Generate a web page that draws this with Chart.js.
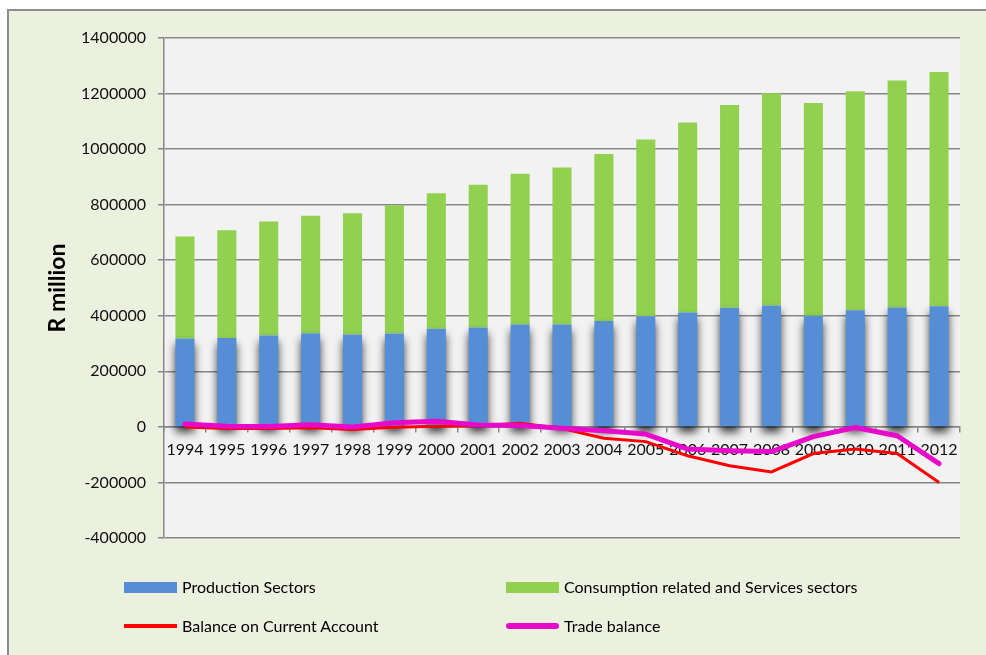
<!DOCTYPE html>
<html>
<head>
<meta charset="utf-8">
<script src="https://cdn.jsdelivr.net/npm/chart.js@4/dist/chart.umd.min.js"></script>
<style>
  html, body { margin: 0; padding: 0; background: #fff; }
  body { width: 986px; height: 655px; position: relative; overflow: hidden; font-family: Lato, sans-serif; }
  #frame {
    position: absolute; left: 7px; top: 9px; right: -10px; bottom: -10px;
    background: #EBF0DF; border-left: 2px solid #8c8c8c; border-top: 2px solid #8c8c8c;
  }
  #chartBox { position: absolute; left: 0; top: 0; width: 986px; height: 655px; }
  #legend { position: absolute; left: 0; top: 0; width: 986px; height: 655px; pointer-events: none; }
  .item { position: absolute; font-size: 16px; color: #000; line-height: 20px; white-space: nowrap; }
  .item .sw { position: absolute; left: 0; }
  .item span.txt { position: absolute; left: 58px; top: 0; }
</style>
</head>
<body>
<div id="frame"></div>
<div id="chartBox"><canvas id="myChart" width="986" height="655"></canvas></div>
<div id="legend"></div>
<script>
// years on the category axis
const years = ['1994', '1995', '1996', '1997', '1998', '1999', '2000', '2001', '2002', '2003',
               '2004', '2005', '2006', '2007', '2008', '2009', '2010', '2011', '2012'];

// R million
const production = [318000, 320000, 329000, 337000, 333000, 336000, 353000, 358000, 369000, 369000,
                    381000, 398000, 412000, 429000, 437000, 400000, 420000, 430000, 434000];
const consumption = [367000, 388000, 410000, 423000, 436000, 462000, 488000, 514000, 542000, 565000,
                     601000, 637000, 684000, 730000, 764000, 766000, 788000, 817000, 844000];
const currentAccount = [0, -6000, -6000, -3000, -9000, -1000, 2000, 4000, 13000, -6000,
                        -41000, -53000, -104000, -140000, -162000, -96000, -80000, -96000, -200000];
const tradeBalance = [10000, 2000, 1000, 8000, 0, 15000, 20000, 7000, 5000, -5000,
                      -14000, -26000, -80000, -86000, -89000, -35000, -2000, -32000, -132000];

// y axis ticks
const yMin = -400000;
const yMax = 1400000;
const yStep = 200000;

const gridGray = '#878787';

Chart.defaults.font.family = 'Lato, sans-serif';
Chart.defaults.color = '#000';

// grey plot area background
const plotBg = {
    id: 'plotBg',
    beforeDraw(chart) {
        const a = chart.chartArea;
        const ctx = chart.ctx;
        ctx.save();
        ctx.fillStyle = '#F2F2F2';
        ctx.fillRect(a.left, a.top, a.right - a.left, a.bottom - a.top);
        ctx.restore();
    }
};

// soft shadow under the blue bars
const barShadow = {
    id: 'barShadow',
    beforeDatasetDraw(chart, args) {
        if (args.index !== 0) return;
        const ctx = chart.ctx;
        ctx.save();
        ctx.shadowColor = 'rgba(0,0,0,0.75)';
        ctx.shadowBlur = 9;
        ctx.shadowOffsetX = 0;
        ctx.shadowOffsetY = 6;
    },
    afterDatasetDraw(chart, args) {
        if (args.index !== 0) return;
        chart.ctx.restore();
    }
};

const ctx = document.getElementById('myChart').getContext('2d');

const myChart = new Chart(ctx, {
    data: {
        labels: years,
        datasets: [
            {
                type: 'bar',
                label: 'Production Sectors',
                data: production,
                backgroundColor: '#558ED5',
                stack: 'sectors',
                order: 2,
                categoryPercentage: 1,
                barPercentage: 0.455
            },
            {
                type: 'bar',
                label: 'Consumption related and Services sectors',
                data: consumption,
                backgroundColor: '#92D050',
                stack: 'sectors',
                order: 2,
                categoryPercentage: 1,
                barPercentage: 0.455
            },
            {
                type: 'line',
                label: 'Balance on Current Account',
                data: currentAccount,
                borderColor: '#FF0000',
                backgroundColor: '#FF0000',
                borderWidth: 3,
                pointRadius: 0,
                tension: 0,
                stack: 'ca',
                order: 1
            },
            {
                type: 'line',
                label: 'Trade balance',
                data: tradeBalance,
                borderColor: '#E80ACB',
                backgroundColor: '#E80ACB',
                borderWidth: 5,
                borderCapStyle: 'round',
                borderJoinStyle: 'round',
                pointRadius: 0,
                tension: 0,
                stack: 'tb',
                order: 0
            }
        ]
    },
    options: {
        responsive: false,
        animation: false,
        layout: { padding: { top: 38, right: 26, bottom: 117, left: 0 } },
        plugins: {
            legend: { display: false },
            tooltip: { enabled: false }
        },
        scales: {
            x: {
                type: 'category',
                stacked: true,
                position: { y: 0 },
                z: 1,
                offset: true,
                grid: {
                    offset: true,
                    drawOnChartArea: false,
                    drawTicks: true,
                    tickLength: 5,
                    color: gridGray,
                    lineWidth: 1.5
                },
                border: { display: true, color: gridGray, width: 1.5 },
                ticks: {
                    autoSkip: false,
                    maxRotation: 0,
                    minRotation: 0,
                    padding: 8,
                    font: { size: 16 },
                    color: '#111'
                }
            },
            y: {
                stacked: true,
                min: yMin,
                max: yMax,
                afterFit(scale) { scale.width = 164; },
                grid: {
                    color: gridGray,
                    lineWidth: 1.5,
                    drawTicks: true,
                    tickLength: 6
                },
                border: { display: true, color: gridGray, width: 1.5 },
                ticks: {
                    stepSize: yStep,
                    padding: 12,
                    font: { size: 16 },
                    color: '#111',
                    callback: function (value) { return String(value); }
                },
                title: {
                    display: true,
                    text: 'R million',
                    font: { size: 23, weight: 'bold' },
                    color: '#000',
                    padding: { top: 44, bottom: 0 }
                }
            }
        }
    },
    plugins: [plotBg, barShadow]
});

// legend in two columns, built from the chart's datasets
const legendSpots = [
    { left: 124, top: 577 },
    { left: 506, top: 577 },
    { left: 124, top: 616 },
    { left: 506, top: 616 }
];
const legend = document.getElementById('legend');
myChart.data.datasets.forEach(function (ds, i) {
    const spot = legendSpots[i];
    const item = document.createElement('div');
    item.className = 'item';
    item.style.left = spot.left + 'px';
    item.style.top = spot.top + 'px';
    const sw = document.createElement('div');
    sw.className = 'sw';
    sw.style.width = '53px';
    if (ds.type === 'bar') {
        sw.style.top = '5px';
        sw.style.height = '11px';
        sw.style.background = ds.backgroundColor;
    } else {
        const h = ds.borderWidth + 1;
        sw.style.top = (10 - h / 2) + 'px';
        sw.style.height = h + 'px';
        sw.style.background = ds.borderColor;
        if (ds.borderCapStyle === 'round') sw.style.borderRadius = h / 2 + 'px';
    }
    const txt = document.createElement('span');
    txt.className = 'txt';
    txt.textContent = ds.label;
    item.appendChild(sw);
    item.appendChild(txt);
    legend.appendChild(item);
});
</script>
</body>
</html>
